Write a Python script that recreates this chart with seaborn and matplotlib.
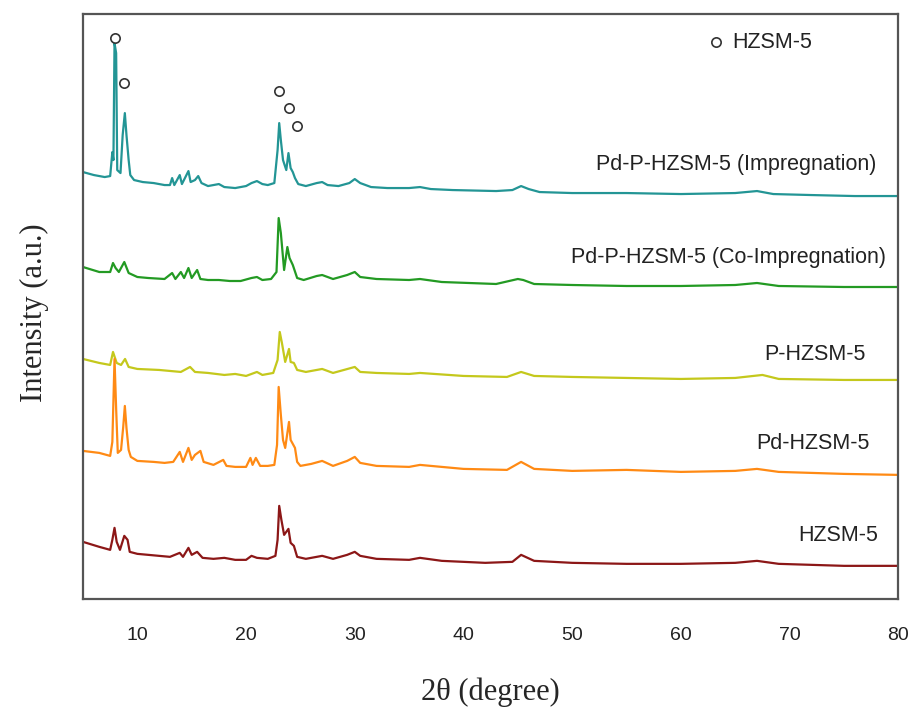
import pandas as pd
import matplotlib
matplotlib.use("Agg")
import matplotlib.pyplot as plt
import seaborn as sns

# -----------------------------------------------------
# XRD patterns (2theta in degree, intensity in a.u., stacked)
# -----------------------------------------------------
tt_impreg = [5.0, 6.0, 7.0, 7.5, 7.7, 7.8, 7.9, 8.05, 8.15, 8.45, 8.65, 8.85, 9.0, 9.2, 9.35, 9.7,
             10.5, 11.5, 12.5, 13.0, 13.2, 13.4, 13.9, 14.1, 14.7, 14.9, 15.3, 15.6, 15.9, 16.5,
             17.5, 18.0, 19.0, 20.0, 20.5, 21.0, 21.5, 22.0, 22.6, 22.9, 23.05, 23.2, 23.4, 23.7,
             23.9, 24.1, 24.3, 24.5, 24.8, 25.5, 26.5, 27.0, 27.5, 28.5, 29.5, 30.0, 30.5, 31.5,
             33, 35, 36, 37, 39, 43, 44.5, 45.3, 46, 47, 50, 55, 60, 65, 67, 68.5, 72, 76, 80]
int_impreg = [427, 424, 422, 423, 447, 439, 556, 546, 429, 426, 464, 486, 464, 439, 424, 419,
              417, 416, 414, 414, 421, 414, 424, 415, 428, 417, 419, 423, 416, 413,
              415, 412, 411, 413, 416, 418, 415, 414, 416, 449, 476, 459, 439, 429,
              446, 431, 427, 421, 415, 413, 416, 417, 414, 413, 416, 420, 416, 412,
              411, 411, 412, 410, 409, 408, 409, 413, 410, 407, 406, 406, 405, 406, 408, 405, 404, 403, 403]

tt_coimp = [5.0, 6.5, 7.5, 7.76, 8.0, 8.3, 8.8, 9.2, 10, 11, 12.5, 13.2, 13.5, 14.0, 14.3, 14.7,
            15.0, 15.5, 15.8, 16.5, 17.5, 18.5, 19.5, 20.5, 21, 21.5, 22.3, 22.8, 23.0, 23.2,
            23.5, 23.8, 24.0, 24.3, 24.7, 25.3, 26.5, 27, 28, 29.3, 30, 30.5, 32, 35, 36, 38,
            43, 45, 45.5, 46.5, 50, 55, 60, 65, 67, 69, 75, 80]
int_coimp = [332, 327, 327, 336, 331, 327, 337, 326, 322, 321, 320, 326, 320, 327, 321, 331,
             321, 329, 320, 319, 319, 318, 318, 321, 322, 319, 320, 327, 381, 366,
             329, 352, 341, 334, 321, 319, 323, 324, 320, 324, 327, 322, 320, 319, 320, 317,
             315, 320, 319, 315, 314, 313, 313, 314, 316, 313, 312, 312]

tt_p = [5.0, 6.5, 7.5, 7.76, 8.1, 8.5, 8.87, 9.2, 10, 12, 13, 14, 14.85, 15.3, 16.5, 18, 19, 20,
        21, 21.5, 22.5, 22.9, 23.1, 23.3, 23.6, 23.95, 24.1, 24.4, 24.7, 25.5, 27, 28, 30, 30.5,
        32, 35, 36, 40, 44, 45.3, 46.5, 50, 55, 60, 65, 67.5, 69, 75, 80]
int_p = [240, 236, 234, 247, 236, 234, 240, 232, 230, 229, 228, 227, 232, 227, 226, 224, 225, 223,
         227, 224, 226, 239, 267, 256, 237, 250, 237, 236, 229, 227, 230, 226, 232, 227,
         226, 225, 226, 223, 222, 227, 223, 222, 221, 220, 221, 224, 220, 219, 219]

tt_pd = [5.0, 6.5, 7.5, 7.7, 7.9, 8.05, 8.2, 8.5, 8.7, 8.85, 9.0, 9.2, 9.4, 10, 11.5, 12.5, 13.3,
         13.9, 14.2, 14.7, 15.0, 15.3, 15.8, 16.1, 17, 17.9, 18.2, 19, 20, 20.4, 20.6, 20.9, 21.3,
         22, 22.6, 22.85, 23.0, 23.2, 23.4, 23.6, 23.95, 24.1, 24.5, 24.7, 25, 25.5, 26, 27, 28,
         29.3, 30, 30.5, 32, 35, 36, 37, 40, 44, 45.3, 46.5, 50, 55, 60, 65, 67, 69, 75, 80]
int_pd = [148, 146, 143, 157, 240, 190, 146, 149, 172, 193, 171, 149, 142, 138, 137, 136, 137,
          147, 137, 151, 139, 144, 148, 137, 134, 139, 133, 132, 132, 141, 134, 141, 133,
          133, 134, 154, 212, 184, 159, 151, 177, 159, 151, 137, 133, 134, 135, 138, 133,
          138, 142, 136, 133, 132, 134, 133, 130, 129, 137, 130, 128, 129, 127, 128, 130, 127, 125, 124]

tt_h = [5.0, 6.5, 7.5, 7.7, 7.9, 8.1, 8.4, 8.8, 9.1, 9.3, 10, 11, 12, 13, 13.9, 14.2, 14.7, 15.0,
        15.5, 16, 17, 18, 19, 20, 20.5, 21, 22, 22.7, 22.9, 23.05, 23.25, 23.5, 23.9, 24.1, 24.4,
        24.7, 25.5, 26.5, 27, 28, 29.3, 30, 30.5, 32, 35, 36, 38, 42, 44.5, 45.3, 46.5, 50, 55,
        60, 65, 67, 69, 75, 80]
int_h = [57, 52, 49, 59, 71, 57, 49, 63, 59, 47, 45, 44, 43, 42, 46, 42, 51, 44,
         47, 41, 40, 41, 39, 39, 43, 41, 40, 43, 59, 93, 79, 64, 70, 56, 53,
         42, 40, 42, 43, 40, 44, 47, 43, 40, 39, 41, 38, 36, 37, 44, 38, 36, 35,
         35, 36, 38, 35, 33, 33]

samples = ['Pd-P-HZSM-5 (Impregnation)', 'Pd-P-HZSM-5 (Co-Impregnation)',
           'P-HZSM-5', 'Pd-HZSM-5', 'HZSM-5']
colors = ['#239595', '#239a23', '#c4c81c', '#ff8a14', '#8c1717']

# HZSM-5 reflection markers
mark_tt = [7.94, 8.77, 23.04, 23.96, 24.69]
mark_int = [561, 516, 508, 491, 473]

# sample label anchors
label_tt = [65.1, 64.4, 72.3, 72.1, 74.5]
label_int = [435, 342, 244, 155, 63]

frames = []
for name, tt, inten in zip(samples,
                           [tt_impreg, tt_coimp, tt_p, tt_pd, tt_h],
                           [int_impreg, int_coimp, int_p, int_pd, int_h]):
    frames.append(pd.DataFrame({'two_theta': tt, 'intensity': inten, 'sample': name}))
df = pd.concat(frames, ignore_index=True)

sns.set_style('white')
plt.rcParams['font.family'] = ['Liberation Sans', 'DejaVu Sans']

fig = plt.figure(figsize=(9.12, 7.07), dpi=100)
ax = fig.add_axes([0.091, 0.153, 0.894, 0.827])

sns.lineplot(data=df, x='two_theta', y='intensity', hue='sample', hue_order=samples,
             palette=colors, estimator=None, sort=False, linewidth=1.6, legend=False, ax=ax)

sns.scatterplot(x=mark_tt, y=mark_int, marker='o', s=45, facecolor='white',
                edgecolor='#333333', linewidth=1.2, ax=ax, zorder=5)
ax.scatter([63.2], [557], marker='o', s=45, facecolor='white', edgecolor='#333333',
           linewidth=1.2, zorder=5)
ax.text(64.7, 557, 'HZSM-5', fontsize=15.5, va='center', ha='left', color='#222222')

for name, x, y in zip(samples, label_tt, label_int):
    ax.text(x, y, name, fontsize=15.5, ha='center', va='center', color='#222222')

ax.set_xlim(5, 80)
ax.set_ylim(0, 585)
ax.set_xticks([10, 20, 30, 40, 50, 60, 70, 80])
ax.set_yticks([])
ax.tick_params(axis='x', length=0, pad=20, labelsize=14)
for lab in ax.get_xticklabels():
    lab.set_color('#222222')

ax.set_xlabel('2θ (degree)', fontsize=22, family=['Liberation Serif', 'DejaVu Serif'])
ax.set_ylabel('Intensity (a.u.)', fontsize=22, family=['Liberation Serif', 'DejaVu Serif'])
ax.xaxis.set_label_coords(0.5, -0.135)
ax.yaxis.set_label_coords(-0.042, 0.49)

for sp in ax.spines.values():
    sp.set_color('#555555')
    sp.set_linewidth(1.6)

fig.savefig('out.png', dpi=100)
